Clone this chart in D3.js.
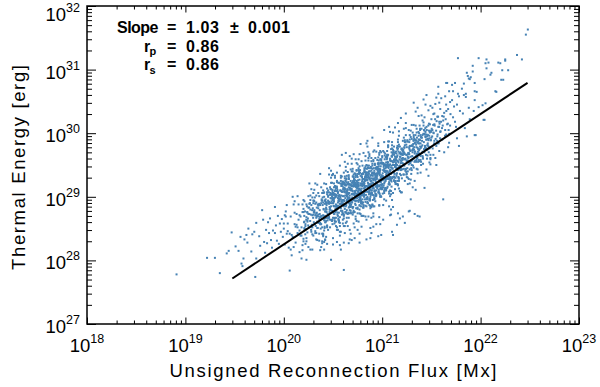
<!DOCTYPE html>
<html><head><meta charset="utf-8">
<script src="https://cdn.jsdelivr.net/npm/d3@7"></script>
<style>html,body{margin:0;padding:0;background:#fff}svg{display:block}</style>
</head><body><svg id="c" width="600" height="387"></svg>
<script>
// Values, as [log10 flux (Mx), log10 energy (erg)]
const sparseLow = [[18.91,27.78],[19.22,28.04],[19.30,28.04],[19.35,27.80],[19.42,28.11],[19.44,28.15],[19.47,28.44],[19.51,28.22],[19.54,28.15],[19.56,28.37],[19.57,27.95],[19.58,27.91],[19.59,28.03],[19.60,28.33],[19.62,28.40],[19.63,28.28],[19.64,28.50],[19.67,28.14],[19.68,28.41],[19.70,28.45],[19.71,27.74],[19.72,28.03],[19.72,28.59],[19.75,28.38],[19.76,28.23],[19.78,28.79],[19.79,28.64],[19.80,28.29],[19.81,28.12],[19.82,28.48],[19.83,28.27],[19.84,28.60],[19.85,28.43],[19.86,28.66],[19.87,28.32],[19.88,28.20],[19.89,28.47],[19.91,28.84],[19.91,28.43],[19.92,28.55],[19.93,28.31],[19.94,28.70],[19.95,28.26],[19.96,28.58],[19.97,28.45],[19.98,28.65],[19.99,28.37],[20.01,28.71]];

const band20 = [
[20.03,28.42],[20.07,28.69],[20.01,28.25],[20.09,29.00],[20.05,28.20],[20.00,28.50],[20.08,28.08],[20.02,28.69],[20.06,28.42],[20.04,28.58],[20.06,27.84],[20.02,28.77],[20.09,28.37],[20.04,28.46],[20.00,28.58],[20.07,28.17],[20.03,28.87],[20.08,28.40],
[20.13,28.56],[20.17,28.39],[20.11,28.75],[20.19,28.24],[20.15,28.64],[20.10,28.88],[20.18,28.52],[20.12,28.28],[20.16,28.71],[20.14,29.01],[20.16,28.13],[20.12,28.53],[20.19,28.88],[20.14,28.43],[20.10,28.21],[20.17,28.69],[20.13,28.73],[20.18,28.03],[20.11,28.57],[20.15,28.88],[20.18,28.39],[20.14,28.52],[20.11,28.93],[20.16,28.47],[20.19,28.76],
[20.23,28.01],[20.27,29.02],[20.21,28.49],[20.29,28.71],[20.25,28.83],[20.20,28.30],[20.28,29.12],[20.22,28.54],[20.26,28.89],[20.24,28.44],[20.26,28.73],[20.22,28.26],[20.29,28.99],[20.24,28.61],[20.20,28.76],[20.27,28.17],[20.23,28.88],[20.28,28.53],[20.21,28.61],[20.25,29.01],[20.28,28.45],[20.24,28.75],[20.21,28.51],[20.26,29.21],[20.29,28.41],[20.23,28.68],[20.20,28.81],[20.25,28.21],[20.27,28.80],[20.22,28.57],[20.21,28.93],[20.29,28.52],[20.25,28.73],[20.23,28.30],[20.27,28.95],[20.24,28.63],[20.28,28.87],[20.20,28.34],
[20.33,28.74],[20.37,28.57],[20.31,28.93],[20.39,28.42],[20.35,28.82],[20.30,29.06],[20.38,28.70],[20.32,28.46],[20.36,28.89],[20.34,29.19],[20.36,28.31],[20.32,28.71],[20.39,29.06],[20.34,28.61],[20.30,28.39],[20.37,28.87],[20.33,28.91],[20.38,28.21],[20.31,28.75],[20.35,29.06],[20.38,28.57],[20.34,28.70],[20.31,29.11],[20.36,28.65],[20.39,28.94],[20.33,28.33],[20.30,28.94],[20.35,28.59],[20.37,29.36],[20.32,28.43],[20.31,28.77],[20.39,28.30],[20.35,28.86],[20.33,29.02],[20.37,28.68],[20.34,28.51],[20.38,29.15],[20.30,28.72],[20.36,28.42],[20.32,28.89],[20.35,28.72],[20.30,28.90],[20.37,28.59],[20.32,29.21],[20.39,28.52],[20.31,28.79],[20.34,28.32],[20.36,29.01],[20.33,28.67],[20.38,28.90],
[20.43,28.62],[20.47,28.83],[20.41,29.21],[20.49,28.78],[20.45,29.00],[20.40,28.40],[20.48,29.12],[20.42,28.66],[20.46,29.45],[20.44,28.55],[20.46,28.92],[20.42,28.33],[20.49,29.00],[20.44,29.13],[20.40,28.71],[20.47,28.64],[20.43,29.20],[20.48,28.90],[20.41,28.47],[20.45,29.02],[20.48,28.85],[20.44,29.04],[20.41,28.63],[20.46,29.35],[20.49,28.62],[20.43,28.91],[20.40,28.38],[20.45,29.10],[20.47,28.81],[20.42,28.94],[20.41,28.17],[20.49,29.22],[20.45,28.71],[20.43,28.83],[20.47,29.03],[20.44,28.52],[20.48,29.30],[20.40,28.70],[20.46,29.07],[20.42,28.60],[20.45,28.90],[20.40,28.42],[20.47,29.15],[20.42,28.77],[20.49,29.03],[20.41,28.29],[20.44,29.07],[20.46,28.69],[20.43,28.81],[20.48,29.22],[20.49,28.64],[20.45,28.94],[20.42,28.70],[20.48,29.41],[20.44,28.54],[20.46,28.89],[20.41,29.00],[20.43,28.37],[20.40,28.91],[20.47,28.80],[20.40,29.10],[20.46,28.67],[20.43,28.89],[20.47,28.52],[20.41,29.07]];

const band205 = [
[20.53,29.00],[20.57,28.54],[20.51,29.15],[20.59,28.92],[20.55,29.06],[20.50,28.25],[20.58,29.30],[20.52,28.77],[20.56,28.95],[20.54,29.09],[20.56,28.63],[20.52,29.33],[20.59,28.88],[20.54,29.14],[20.50,28.67],[20.57,29.01],[20.53,28.54],[20.58,29.25],[20.51,28.85],[20.55,29.08],[20.58,28.45],[20.54,29.16],[20.51,28.73],[20.56,28.93],[20.59,29.32],[20.53,28.67],[20.50,28.98],[20.55,28.82],[20.57,29.49],[20.52,28.61],[20.51,28.93],[20.59,29.17],[20.55,28.48],[20.53,29.03],[20.57,28.89],[20.54,29.23],[20.58,28.78],[20.50,28.95],[20.56,28.60],[20.52,29.17],[20.55,28.91],[20.50,29.06],[20.57,28.68],[20.52,29.30],[20.59,28.87],[20.51,29.03],[20.54,28.52],[20.56,28.97],[20.53,29.16],[20.58,28.82],[20.59,29.66],[20.55,28.70],[20.52,28.99],[20.58,28.89],[20.54,29.25],[20.56,28.62],[20.51,29.05],[20.53,28.88],[20.50,29.35],[20.57,28.24],[20.50,28.90],[20.56,28.75],[20.53,29.14],[20.57,28.59],[20.51,28.97],[20.58,29.33],[20.55,28.86],[20.59,28.72],[20.52,29.04],[20.54,29.38],[20.54,28.48],[20.58,28.96],[20.56,29.22],[20.50,28.76],[20.53,28.61],[20.59,29.08],[20.52,29.09],[20.57,28.39],[20.55,28.98],[20.51,29.21],
[20.63,28.76],[20.67,29.14],[20.61,28.87],[20.69,29.60],[20.65,28.73],[20.60,29.01],[20.68,29.25],[20.62,28.54],[20.66,29.15],[20.64,28.95],[20.66,29.34],[20.62,28.81],[20.69,29.13],[20.64,28.67],[20.60,29.24],[20.67,29.02],[20.63,29.18],[20.68,28.78],[20.61,29.38],[20.65,28.92],[20.68,29.19],[20.64,28.61],[20.61,29.01],[20.66,29.28],[20.69,28.92],[20.63,29.69],[20.60,28.74],[20.65,29.11],[20.67,28.97],[20.62,29.32],[20.61,28.66],[20.69,29.22],[20.65,28.99],[20.63,29.47],[20.67,28.33],[20.64,29.03],[20.68,28.86],[20.60,29.20],[20.66,28.67],[20.62,29.07],[20.65,29.39],[20.60,28.90],[20.67,28.79],[20.62,29.13],[20.69,29.52],[20.61,28.54],[20.64,29.01],[20.66,29.31],[20.63,28.88],[20.68,28.75],[20.69,29.17],[20.65,29.21],[20.62,28.43],[20.68,29.10],[20.64,29.33],[20.66,28.83],[20.61,28.95],[20.63,29.41],[20.60,28.87],[20.67,29.20],[20.60,28.58],[20.66,29.28],[20.63,28.85],[20.67,29.64],[20.61,28.70],[20.68,29.12],[20.65,28.54],[20.69,29.18],[20.62,29.29],[20.64,28.93],[20.64,28.79],[20.68,29.43],[20.66,29.06],[20.60,28.64],[20.63,29.18],[20.69,29.04],[20.62,29.20],[20.67,28.87],[20.65,29.52],[20.61,28.72],[20.67,29.13],[20.63,28.59],[20.60,29.23],[20.65,28.97],[20.62,29.12],[20.68,28.42],[20.69,29.40],[20.61,28.85],[20.64,29.02],[20.66,29.20],
[20.73,28.65],[20.77,29.13],[20.71,29.35],[20.79,29.03],[20.75,28.81],[20.70,29.17],[20.78,29.33],[20.72,28.52],[20.76,29.17],[20.74,29.42],[20.76,28.92],[20.72,29.05],[20.79,29.56],[20.74,29.00],[20.70,29.22],[20.77,28.74],[20.73,29.34],[20.78,28.99],[20.71,29.67],[20.75,28.83],[20.78,29.21],[20.74,28.62],[20.71,29.19],[20.76,29.42],[20.79,29.07],[20.73,28.87],[20.70,29.44],[20.75,29.14],[20.77,28.80],[20.72,29.26],[20.71,29.05],[20.79,29.36],[20.75,28.94],[20.73,29.59],[20.77,28.87],[20.74,29.19],[20.78,28.73],[20.70,29.32],[20.76,29.07],[20.72,29.21],[20.75,28.48],[20.70,29.40],[20.77,29.00],[20.72,29.09],[20.79,29.32],[20.71,28.76],[20.74,29.53],[20.76,29.03],[20.73,29.31],[20.78,28.93],[20.79,29.21],[20.75,28.74],[20.72,29.37],[20.78,29.10],[20.74,29.25],[20.76,28.61],[20.71,29.31],[20.73,28.93],[20.70,29.05],[20.77,29.48],[20.70,28.82],[20.76,29.22],[20.73,28.98],[20.77,29.67],[20.71,28.78],[20.78,29.18],[20.75,29.31],[20.79,28.70],[20.72,29.20],[20.74,29.04],[20.74,29.41],[20.78,28.96],[20.76,29.19],[20.70,28.72],[20.73,29.36],[20.79,29.13],[20.72,29.26],[20.77,28.86],[20.75,29.51],[20.71,28.97],[20.77,29.27],[20.73,28.69],[20.70,29.09],[20.75,29.36],[20.72,28.94],[20.78,29.83],[20.79,28.92],[20.71,29.16],[20.74,29.03],[20.76,29.45],[20.72,28.76],[20.71,29.23],[20.78,29.11],[20.76,29.59],[20.77,28.42],
[20.83,28.86],[20.87,29.64],[20.81,29.06],[20.89,29.45],[20.85,28.98],[20.80,29.20],[20.88,28.85],[20.82,29.45],[20.86,29.16],[20.84,29.33],[20.86,28.69],[20.82,29.40],[20.89,29.07],[20.84,29.17],[20.80,29.49],[20.87,28.97],[20.83,29.27],[20.88,29.11],[20.81,29.69],[20.85,28.90],[20.88,29.26],[20.84,29.38],[20.81,28.70],[20.86,29.32],[20.89,29.17],[20.83,29.48],[20.80,28.96],[20.85,29.26],[20.87,28.87],[20.82,29.43],[20.81,29.13],[20.89,29.41],[20.85,28.92],[20.83,29.57],[20.87,29.11],[20.84,29.32],[20.88,28.82],[20.80,29.17],[20.86,29.45],[20.82,29.02],[20.85,29.88],[20.80,28.91],[20.87,29.30],[20.82,29.09],[20.89,29.56],[20.81,28.83],[20.84,29.34],[20.86,29.17],[20.83,29.64],[20.88,28.51],[20.89,29.25],[20.85,29.00],[20.82,29.39],[20.88,28.86],[20.84,29.26],[20.86,29.57],[20.81,29.08],[20.83,28.92],[20.80,29.28],[20.87,29.67],[20.80,28.70],[20.86,29.20],[20.83,29.45],[20.87,29.09],[20.81,28.85],[20.88,29.33],[20.85,29.38],[20.89,28.67],[20.82,29.21],[20.84,29.50],[20.84,28.98],[20.88,29.19],[20.86,29.61],[20.80,29.04],[20.83,29.33],[20.89,28.84],[20.82,29.41],[20.87,29.06],[20.85,29.79],[20.81,28.87],[20.87,29.28],[20.83,28.69],[20.80,29.26],[20.85,29.49],[20.82,29.08],[20.88,29.00],[20.89,29.61],[20.81,29.18],[20.84,28.85],[20.86,29.38],[20.82,29.14],[20.81,29.36],[20.88,29.05],[20.86,29.70],[20.87,28.95],
[20.93,29.05],[20.97,29.69],[20.91,29.28],[20.99,29.00],[20.95,29.47],[20.90,29.22],[20.98,29.53],[20.92,29.09],[20.96,29.80],[20.94,29.02],[20.96,29.39],[20.92,28.85],[20.99,29.59],[20.94,29.23],[20.90,29.37],[20.97,28.68],[20.93,29.61],[20.98,29.19],[20.91,29.26],[20.95,29.46],[20.98,29.01],[20.94,29.71],[20.91,29.16],[20.96,29.52],[20.99,29.12],[20.93,29.33],[20.90,28.87],[20.95,29.58],[20.97,29.27],[20.92,29.41],[20.91,28.74],[20.99,29.57],[20.95,29.13],[20.93,29.26],[20.97,29.66],[20.94,29.04],[20.98,29.42],[20.90,29.13],[20.96,29.84],[20.92,28.97],[20.95,29.33],[20.90,29.44],[20.97,28.86],[20.92,29.38],[20.99,29.27],[20.91,29.56],[20.94,29.10],[20.96,29.37],[20.93,28.93],[20.98,29.59],[20.99,29.31],[20.95,29.47],[20.92,28.99],[20.98,29.72],[20.94,29.18],[20.96,29.44],[20.91,28.85],[20.93,29.30],[20.90,29.49],[20.97,29.17],[20.90,29.93],[20.96,29.07],[20.93,29.36],[20.97,29.24],[20.91,29.58],[20.98,29.00],[20.95,29.45],[20.99,29.30],[20.92,29.73],[20.94,28.57],[20.94,29.30],[20.98,29.13],[20.96,29.53],[20.90,28.88],[20.93,29.35],[20.99,29.70],[20.92,29.19],[20.97,29.06],[20.95,29.43],[20.91,29.71],[20.97,28.87],[20.93,29.27],[20.90,29.52],[20.95,29.17],[20.92,28.96],[20.98,29.43],[20.99,29.52],[20.91,28.69],[20.94,29.33],[20.96,29.62]];

const band21 = [
[21.03,29.68],[21.07,29.23],[21.01,29.42],[21.09,29.09],[21.05,29.66],[21.00,29.32],[21.08,29.60],[21.02,29.09],[21.06,29.80],[21.04,29.28],[21.06,29.54],[21.02,28.96],[21.09,29.46],[21.04,29.63],[21.00,29.20],[21.07,30.10],[21.03,29.14],[21.08,29.51],[21.01,29.28],[21.05,29.72],[21.08,29.10],[21.04,29.54],[21.01,29.32],[21.06,29.87],[21.09,28.72],[21.03,29.39],[21.00,29.15],[21.05,29.62],[21.07,29.05],[21.02,29.44],[21.01,29.72],[21.09,29.36],[21.05,29.14],[21.03,29.51],[21.07,29.87],[21.04,28.94],[21.08,29.42],[21.00,29.62],[21.06,29.28],[21.02,29.06],[21.05,29.50],[21.00,29.53],[21.07,28.85],[21.02,29.41],[21.09,29.75],[21.01,29.15],[21.04,29.35],[21.06,29.81],[21.03,29.27],[21.08,29.58],[21.09,29.04],[21.05,29.64],[21.02,29.21],[21.08,30.02],[21.04,29.10],[21.06,29.47],[21.01,28.87],[21.03,29.49],[21.00,29.64],[21.07,29.33],[21.00,29.12],[21.06,29.78],[21.03,29.40],[21.07,29.08],[21.01,29.53],[21.08,29.40],[21.05,29.60],[21.09,29.26],[21.02,29.86],[21.04,29.12],[21.04,29.47],[21.08,29.01],[21.06,29.66],[21.00,29.29],[21.03,29.50],[21.09,28.80],[21.02,29.70],[21.07,29.28],[21.05,29.40],[21.01,29.52],
[21.13,30.09],[21.17,29.25],[21.11,29.54],[21.19,29.07],[21.15,29.63],[21.10,29.76],[21.18,29.46],[21.12,29.26],[21.16,29.90],[21.14,29.53],[21.16,29.19],[21.12,29.66],[21.19,29.53],[21.14,29.71],[21.10,29.29],[21.17,30.03],[21.13,29.23],[21.18,29.63],[21.11,29.06],[21.15,29.77],[21.18,29.49],[21.14,29.63],[21.11,28.84],[21.16,29.86],[21.19,29.42],[21.13,29.50],[21.10,29.63],[21.15,29.20],[21.17,29.96],[21.12,29.39],[21.11,29.69],[21.19,29.34],[21.15,29.57],[21.13,29.12],[21.17,29.82],[21.14,29.46],[21.18,29.69],[21.10,28.95],[21.16,29.76],[21.12,29.32],[21.15,29.50],[21.10,29.81],[21.17,29.29],[21.12,29.58],[21.19,29.44],[21.11,30.01],[21.14,29.21],[21.16,29.56],[21.13,29.69],[21.18,29.09],[21.19,29.67],[21.15,29.45],[21.12,29.79],[21.18,29.36],[21.14,29.57],[21.16,29.18],[21.11,29.74],[21.13,29.47],[21.10,29.64],[21.17,29.26],[21.10,29.86],[21.16,29.42],[21.13,29.63],[21.17,29.13],[21.11,29.50],[21.18,29.79],[21.15,29.37],[21.19,30.24],[21.12,29.25],[21.14,29.59],
[21.23,29.67],[21.27,29.28],[21.21,29.88],[21.29,29.63],[21.25,29.78],[21.20,29.07],[21.28,29.90],[21.22,29.44],[21.26,29.63],[21.24,29.97],[21.26,29.40],[21.22,29.70],[21.29,29.56],[21.24,30.16],[21.20,29.29],[21.27,29.69],[21.23,29.81],[21.28,29.21],[21.21,29.71],[21.25,29.57],[21.28,29.97],[21.24,29.44],[21.21,29.66],[21.26,29.30],[21.29,29.94],[21.23,29.59],[21.20,29.76],[21.25,29.36],[21.27,30.05],[21.22,29.50],[21.21,29.73],[21.29,29.27],[21.25,29.66],[21.23,29.86],[21.27,29.51],[21.24,30.31],[21.28,29.43],[21.20,29.67],[21.26,29.57],[21.22,29.93],[21.25,29.31],[21.20,29.74],[21.27,29.62],[21.22,30.07],[21.29,28.96],[21.21,29.61],[21.24,29.43],[21.26,29.87],[21.23,29.25],[21.28,29.74],[21.29,30.04],[21.25,29.56],[21.22,29.35],[21.28,29.80],[21.24,30.08],[21.26,29.20],[21.21,29.59],[21.23,29.89],
[21.33,29.84],[21.37,29.96],[21.31,29.15],[21.39,29.84],[21.35,30.07],[21.30,29.50],[21.38,29.75],[21.32,30.13],[21.36,29.66],[21.34,29.90],[21.36,29.37],[21.32,29.97],[21.39,29.64],[21.34,30.34],[21.30,29.42],[21.37,29.84],[21.33,29.25],[21.38,29.90],[21.31,30.01],[21.35,29.67],[21.38,29.56],[21.34,30.12],[21.31,29.74],[21.36,29.43],[21.39,29.97],[21.33,29.71],[21.30,29.91],[21.35,29.58],[21.37,30.27],[21.32,29.46],[21.31,29.80],[21.39,29.38],[21.35,30.01],[21.33,29.68],[21.37,29.90],[21.34,29.11],[21.38,30.12],[21.30,29.57],[21.36,29.77],[21.32,29.89],[21.35,29.44],[21.30,30.13],[21.37,29.68],[21.32,29.94],[21.39,29.58],
[21.43,30.25],[21.47,29.79],[21.41,29.97],[21.49,29.51],[21.45,29.90],[21.40,30.07],[21.48,29.76],[21.42,30.53],[21.46,29.65],[21.44,29.95],[21.46,29.81],[21.42,30.17],[21.49,29.59],[21.44,30.02],[21.40,29.79],[21.47,30.36],[21.43,29.14],[21.48,29.92],[21.41,29.64],[21.45,30.10],[21.48,29.54],[21.44,29.94],[21.41,30.20],[21.46,29.81],[21.49,29.66],[21.43,29.99],[21.40,30.28],[21.45,29.43],[21.47,29.89],[21.42,30.12],[21.41,29.71],[21.49,29.61],[21.45,29.98],[21.43,30.04],[21.47,29.33]];

// densest part of the cloud, around the fit line
const coreDense = [
[20.365,28.79],[20.315,28.57],[20.385,28.94],[20.335,28.69],[20.395,28.87],[20.345,28.51],[20.305,28.94],[20.375,28.68],[20.325,28.71],[20.355,28.87],[20.325,28.54],[20.395,28.99],[20.355,28.69],[20.305,28.76],[20.375,28.50],[20.335,28.83],[20.385,28.66],[20.315,28.99],[20.365,28.73],[20.345,28.88],[20.375,28.57],[20.335,28.75],[20.305,28.60],[20.385,28.96],[20.355,28.60],
[20.465,28.91],[20.415,28.51],[20.485,28.97],[20.435,28.76],[20.495,29.11],[20.445,28.67],[20.405,28.80],[20.475,28.98],[20.425,28.60],[20.455,28.92],[20.425,28.77],[20.495,29.04],[20.455,28.72],[20.405,29.06],[20.475,28.79],[20.435,28.87],[20.485,28.63],[20.415,28.94],[20.465,28.84],[20.445,28.73],[20.475,29.06],[20.435,28.67],[20.405,28.81],[20.485,29.05],[20.455,28.66],[20.415,28.89],[20.495,28.57],[20.445,29.07],[20.465,28.80],[20.425,28.92],[20.445,28.63],[20.485,28.93],[20.425,28.96],[20.465,28.76],[20.415,28.53],[20.495,29.09],[20.435,28.80],[20.455,28.92],[20.405,28.66],[20.475,29.12],
[20.565,29.03],[20.515,28.58],[20.585,29.20],[20.535,28.86],[20.595,29.08],[20.545,28.72],[20.505,28.94],[20.575,29.10],[20.525,28.81],[20.555,28.66],[20.525,29.11],[20.595,28.95],[20.555,29.01],[20.505,28.75],[20.575,29.21],[20.535,28.84],[20.585,29.09],[20.515,28.66],[20.565,28.97],[20.545,28.81],[20.575,28.99],[20.535,28.78],[20.505,29.05],[20.585,28.93],[20.555,29.02],[20.515,28.67],[20.595,29.22],[20.545,28.84],[20.565,28.94],[20.525,29.03],[20.545,28.75],[20.585,29.17],[20.525,28.85],[20.565,29.01],[20.515,28.63],[20.595,29.08],[20.535,28.80],[20.555,29.22],[20.505,28.86],[20.575,29.10],[20.595,28.78],[20.505,28.91],[20.565,28.85],[20.545,29.11],[20.525,28.76],[20.585,29.02],[20.555,28.64],[20.515,28.99],[20.575,28.89],[20.535,29.14],[20.515,28.73],[20.555,28.94],[20.535,29.03],[20.595,28.76],[20.505,28.96],
[20.665,28.99],[20.615,29.14],[20.685,28.93],[20.635,29.27],[20.695,28.99],[20.645,29.06],[20.605,28.73],[20.675,29.18],[20.625,28.98],[20.655,28.92],[20.625,29.19],[20.695,28.91],[20.655,29.04],[20.605,29.15],[20.675,28.86],[20.635,29.09],[20.685,28.74],[20.615,29.22],[20.665,28.98],[20.645,29.12],[20.675,28.84],[20.635,29.06],[20.605,29.12],[20.685,28.96],[20.655,28.75],[20.615,29.19],[20.695,29.04],[20.645,29.09],[20.665,28.90],[20.625,29.25],[20.645,28.94],[20.685,29.18],[20.625,28.76],[20.665,29.06],[20.615,28.87],[20.695,29.10],[20.635,28.87],[20.655,29.19],[20.605,28.94],[20.675,29.13],[20.695,28.84],[20.605,29.22],[20.665,28.95],[20.645,29.01],[20.625,29.12],[20.685,28.88],[20.655,29.23],[20.615,28.93],[20.675,29.11],[20.635,28.74],[20.615,29.09],[20.655,28.91],[20.635,29.29],[20.695,29.04],[20.605,29.12],[20.665,28.84],[20.625,29.02],[20.685,28.96],[20.645,29.20],[20.675,28.90],[20.685,29.11],[20.665,28.74],[20.615,29.08],[20.655,28.96],[20.635,29.23],
[20.765,28.95],[20.715,29.28],[20.785,29.09],[20.735,29.16],[20.795,28.89],[20.745,29.21],[20.705,28.95],[20.775,29.42],[20.725,29.06],[20.755,29.26],[20.725,28.89],[20.795,29.18],[20.755,29.02],[20.705,29.25],[20.775,28.99],[20.735,29.15],[20.785,28.85],[20.715,29.17],[20.765,29.06],[20.745,29.33],[20.775,28.97],[20.735,29.10],[20.705,29.18],[20.785,28.93],[20.755,29.19],[20.715,29.03],[20.795,29.31],[20.745,28.98],[20.765,29.39],[20.725,29.01],[20.745,29.15],[20.785,28.90],[20.725,29.22],[20.765,29.11],[20.715,28.97],[20.795,29.35],[20.735,28.94],[20.755,29.13],[20.705,29.24],[20.775,28.95],[20.795,29.24],[20.705,28.75],[20.765,29.36],[20.745,29.05],[20.725,29.19],[20.785,28.94],[20.755,29.17],[20.715,29.22],[20.775,29.04],[20.735,28.82],[20.715,29.28],[20.755,29.09],[20.735,29.17],[20.795,29.02],[20.705,29.32],[20.765,29.05],[20.725,29.21],[20.785,28.91],[20.745,29.13],[20.775,29.02],[20.785,29.18],[20.765,28.99],[20.715,29.24],[20.755,29.08],[20.735,29.18],[20.705,28.84],[20.775,29.38],[20.795,29.07],[20.725,29.08],[20.745,29.23],
[20.865,29.40],[20.815,29.00],[20.885,29.24],[20.835,29.35],[20.895,29.05],[20.845,29.27],[20.805,28.83],[20.875,29.45],[20.825,29.11],[20.855,29.30],[20.825,28.96],[20.895,29.29],[20.855,29.34],[20.805,29.05],[20.875,28.94],[20.835,29.38],[20.885,29.20],[20.815,29.23],[20.865,29.07],[20.845,29.44],[20.875,29.14],[20.835,29.30],[20.805,28.91],[20.885,29.25],[20.855,29.08],[20.815,29.19],[20.895,29.10],[20.845,29.35],[20.865,29.17],[20.825,29.25],[20.845,28.96],[20.885,29.47],[20.825,29.08],[20.865,29.20],[20.815,29.28],[20.895,29.06],[20.835,29.38],[20.855,29.14],[20.805,29.21],[20.875,28.95],[20.895,29.34],[20.805,29.03],[20.865,29.49],[20.845,29.16],[20.825,29.31],[20.885,29.03],[20.855,29.22],[20.815,29.06],[20.875,29.40],[20.835,29.03],[20.815,29.21],[20.855,28.90],[20.835,29.27],[20.895,29.17],[20.805,29.37],[20.865,29.04],[20.825,29.17],[20.885,29.34],[20.845,28.97],[20.875,29.29],[20.885,29.18],[20.865,29.36],[20.815,29.03],[20.855,29.46],[20.835,29.10],[20.805,29.19],[20.875,28.97],[20.895,29.37],[20.825,29.15],[20.845,29.08],
[20.965,29.11],[20.915,29.28],[20.985,29.23],[20.935,29.46],[20.995,29.19],[20.945,29.34],[20.905,28.95],[20.975,29.41],[20.925,29.20],[20.955,29.52],[20.925,29.10],[20.995,29.34],[20.955,29.41],[20.905,29.03],[20.975,29.39],[20.935,29.23],[20.985,29.48],[20.915,29.13],[20.965,29.57],[20.945,29.21],[20.975,29.36],[20.935,29.03],[20.905,29.38],[20.985,29.31],[20.955,29.19],[20.915,29.45],[20.995,29.18],[20.945,29.30],[20.965,29.48],[20.925,29.08],[20.945,29.37],[20.985,29.01],[20.925,29.50],[20.965,29.25],[20.915,29.36],[20.995,29.13],[20.935,29.33],[20.955,29.44],[20.905,29.15],[20.975,29.04],[20.995,29.54],[20.905,29.22],[20.965,29.38],[20.945,29.15],[20.925,29.52],[20.985,29.25],[20.955,29.42],[20.915,29.02],[20.975,29.34],[20.935,29.16],[20.915,29.29],[20.955,29.16],[20.935,29.44],[20.995,29.30],[20.905,29.33],[20.965,29.08],[20.925,29.51],[20.985,29.24],[20.945,29.28],[20.975,29.44],[20.985,29.15],[20.965,29.51],[20.915,29.20],[20.955,29.36],[20.935,29.01],
[21.065,29.20],[21.015,29.41],[21.085,29.57],[21.035,29.28],[21.095,29.16],[21.045,29.59],[21.005,29.32],[21.075,29.49],[21.025,29.23],[21.055,29.65],[21.025,29.29],[21.095,29.56],[21.055,29.16],[21.005,29.37],[21.075,29.30],[21.035,29.41],[21.085,29.29],[21.015,29.52],[21.065,29.37],[21.045,29.47],[21.075,29.19],[21.035,29.62],[21.005,29.26],[21.085,29.42],[21.055,29.52],[21.015,29.18],[21.095,29.64],[21.045,29.33],[21.065,29.47],[21.025,29.10],[21.045,29.49],[21.085,29.31],[21.025,29.65],[21.065,29.38],[21.015,29.50],[21.095,29.24],[21.035,29.40],[21.055,29.30],[21.005,29.53],[21.075,29.27],[21.095,29.49],[21.005,29.05],[21.065,29.50],[21.045,29.32],[21.025,29.59],[21.085,29.26],[21.055,29.40],[21.015,29.47],[21.075,29.20],[21.035,29.45],[21.015,29.31],[21.055,29.55],[21.035,29.25],[21.095,29.70],[21.005,29.27],[21.065,29.45],[21.025,29.12],[21.085,29.56],[21.045,29.37],[21.075,29.31],
[21.165,29.30],[21.115,29.72],[21.185,29.46],[21.135,29.49],[21.195,29.68],[21.145,29.33],[21.105,29.67],[21.175,29.48],[21.125,29.55],[21.155,29.25],[21.125,29.59],[21.195,29.44],[21.155,29.80],[21.105,29.44],[21.175,29.68],[21.135,29.30],[21.185,29.57],[21.115,29.38],[21.165,29.71],[21.145,29.36],[21.175,29.59],[21.135,29.20],[21.105,29.56],[21.185,29.48],[21.155,29.74],[21.115,29.31],[21.195,29.56],[21.145,29.62],[21.165,29.31],[21.125,29.56],[21.145,29.46],[21.185,29.70],[21.125,29.36],[21.165,29.79],[21.115,29.40],[21.195,29.60],[21.135,29.25],[21.155,29.65],[21.105,29.45],[21.175,29.43],[21.195,29.75],[21.105,29.31],[21.165,29.54],[21.145,29.68],[21.125,29.30],[21.185,29.63],[21.155,29.20],[21.115,29.71],[21.175,29.48],[21.135,29.60],
[21.265,29.69],[21.215,29.35],[21.285,29.80],[21.235,29.60],[21.295,29.57],[21.245,29.82],[21.205,29.43],[21.275,29.67],[21.225,29.78],[21.255,29.45],[21.225,29.69],[21.295,29.36],[21.255,29.87],[21.205,29.53],[21.275,29.76],[21.235,29.41],[21.285,29.72],[21.215,29.74],[21.265,29.55],[21.245,29.35],[21.275,29.86],[21.235,29.59],[21.205,29.66],[21.285,29.53],[21.255,29.89],[21.215,29.52],[21.295,29.80],[21.245,29.39],[21.265,29.67],[21.225,29.49],[21.245,29.66],[21.285,29.53],[21.225,29.77],[21.265,29.61],[21.215,29.68],[21.295,29.45],[21.235,29.86],[21.255,29.55],[21.205,29.58],[21.275,29.78],
[21.365,29.87],[21.315,29.60],[21.385,30.07],[21.335,29.71],[21.395,29.94],[21.345,29.55],[21.305,29.73],[21.375,29.68],[21.325,29.91],[21.355,29.61],[21.325,29.78],[21.395,29.50],[21.355,29.85],[21.305,29.64],[21.375,30.00],[21.335,29.57],[21.385,29.79],[21.315,29.83],[21.365,29.55],[21.345,29.82],[21.375,29.73],[21.335,29.89],[21.305,29.58],[21.385,30.05],[21.355,29.68],[21.315,29.76],[21.395,29.55],[21.345,29.88],[21.365,29.75],[21.325,29.62],
[21.465,29.97],[21.415,29.52],[21.485,30.14],[21.435,29.80],[21.495,30.02],[21.445,29.66],[21.405,29.88],[21.475,30.04],[21.425,29.75],[21.455,29.60],[21.425,30.05],[21.495,29.89],[21.455,29.95],[21.405,29.69],[21.475,30.15],[21.435,29.78],[21.485,30.03],[21.415,29.60],[21.465,29.91],[21.445,29.75]];

// extra points at both ends of the dense band
const bandEnds = [
[20.205,28.60],[20.215,28.77],[20.225,28.49],[20.235,28.85],[20.245,28.66],[20.255,28.52],[20.265,28.90],[20.275,28.72],[20.285,28.56],[20.295,28.82],[20.208,28.70],[20.218,28.41],[20.228,28.64],[20.238,28.76],[20.248,28.55],[20.258,28.83],[20.268,28.62],[20.278,28.48],[20.288,28.79],[20.298,28.67],
[21.308,29.70],[21.318,29.88],[21.328,29.55],[21.338,29.97],[21.348,29.78],[21.358,29.62],[21.368,30.02],[21.378,29.84],[21.388,29.66],[21.398,29.93],[21.303,29.81],[21.313,29.49],[21.323,29.74],[21.333,29.85],[21.343,29.64],[21.353,29.93],[21.363,29.71],[21.373,29.58],[21.383,29.89],[21.393,29.77],
[21.408,29.81],[21.418,29.99],[21.428,29.70],[21.438,30.08],[21.448,29.90],[21.458,29.74],[21.468,30.12],[21.478,29.96],[21.488,29.78],[21.498,30.04],[21.403,29.93],[21.413,29.62],[21.423,29.86],[21.433,29.98],[21.443,29.77],[21.453,30.05],[21.463,29.84],[21.473,29.70],[21.483,30.01],[21.493,29.89],
[21.508,29.95],[21.518,30.13],[21.528,29.84],[21.538,30.22],[21.548,30.04],[21.558,29.88],[21.568,30.26],[21.578,30.10],[21.588,29.92],[21.598,30.18],[21.503,30.07],[21.513,29.76],[21.523,30.00],[21.533,30.12],[21.543,29.91],[21.553,30.19],[21.563,29.98],[21.573,29.84],[21.583,30.15],[21.593,30.03],
[21.608,30.08],[21.625,30.26],[21.638,29.96],[21.652,30.35],[21.667,30.15],[21.681,29.99],[21.694,30.30],[21.615,30.12],[21.645,30.22],[21.675,30.05]];

const band215 = [
[21.51,30.05],[21.53,30.31],[21.55,29.80],[21.57,30.73],[21.52,29.66],[21.58,30.18],[21.54,30.46],[21.56,29.95],[21.59,30.38],[21.50,30.22],[21.53,29.88],[21.57,30.10],[21.55,30.56],[21.52,30.01],[21.58,29.72],[21.51,30.40],[21.56,30.26],[21.54,29.61],[21.59,30.02],[21.50,29.93],[21.57,30.62],[21.53,30.14],[21.55,29.50],[21.58,30.48],[21.52,30.30],[21.56,29.84],
[21.62,30.20],[21.65,30.45],[21.61,29.90],[21.68,30.66],[21.64,30.05],[21.67,29.78],[21.63,30.32],[21.66,30.79],[21.69,30.12],[21.60,30.55],[21.62,28.96],[21.65,29.98],[21.67,30.38],[21.64,30.58],[21.68,29.85],[21.61,30.27],[21.66,30.14],[21.69,30.49],[21.63,29.70],[21.65,30.79],
[21.71,30.76],[21.73,30.42],[21.75,30.10],[21.77,30.62],[21.72,30.25],[21.78,30.58],[21.74,30.79],[21.76,29.92],[21.79,30.35],[21.71,30.52],[21.77,31.18],[21.74,30.18],[21.78,29.80],[21.72,30.66],[21.76,30.45],
[21.85,30.57],[21.83,30.60],[21.87,30.90],[21.89,30.85],[21.88,30.86],[21.85,30.62],[21.86,30.95],[21.82,30.31],[21.84,30.08],[21.81,30.70],[21.88,30.40],[21.86,29.95],[21.83,30.78],[21.89,30.22],
[21.92,31.06],[21.92,30.97],[21.94,30.79],[21.94,30.66],[21.94,30.52],[21.98,30.41],[21.96,30.65],[21.98,31.18],[21.93,30.35],[21.94,29.97],[21.95,29.97],[21.90,30.88]];

const topRight = [[22.02,30.44],[22.04,30.21],[22.04,30.85],[22.06,31.16],[22.08,31.11],[22.06,31.02],[22.10,30.92],[22.11,30.95],[22.15,30.66],[22.16,30.65],[22.18,31.11],[22.21,30.84],[22.22,30.99],[22.25,31.14],[22.25,31.16],[22.28,30.99],[22.37,31.23],[22.42,31.16],[22.46,31.55],[22.48,31.63],[22.05,31.10],[22.20,31.10],[22.05,30.47],[22.23,30.84],[22.03,30.21]];

const belowBand = [[20.19,28.16],[20.29,28.17],[20.37,28.16],[20.48,28.01],[20.58,28.17],[20.61,27.85],[20.23,28.35],[20.39,28.27],[20.42,28.32],[20.44,28.26],[20.50,28.35],[20.54,28.29],[20.61,28.28],[20.66,28.27],[20.69,28.32],[20.72,28.35],[20.77,28.28],[20.84,28.33],[20.88,28.35],[20.89,28.43],[20.96,28.38],[20.99,28.40],[21.10,28.45],[21.11,28.40],[21.15,28.56],[21.18,28.66],[21.23,28.59],[21.28,28.78],[21.33,28.73],[21.36,28.70],[21.38,28.69],[21.27,28.77],[21.21,28.69],[20.33,28.43],[20.45,28.48],[20.57,28.45],[20.67,28.48],[20.79,28.53],[20.91,28.53],[21.01,28.64],[21.08,28.71],[21.16,28.74],[20.98,28.57],[20.84,28.64],[20.71,28.58]];

const aboveBand = [[21.32,30.48],[21.36,30.40],[21.44,30.45],[21.49,30.43],[21.45,30.60],[20.49,29.34],[20.50,29.36],[20.20,28.95],[20.84,29.84],[21.16,30.16],[20.62,29.55],[21.02,30.05]];

// Fitted power law (slope 1.03)
const fitFlux = [3e19, 3e22];
const fitEnergy = [5.2e27, 6.2e30];

const xTickExps = [18, 19, 20, 21, 22, 23];
const yTickExps = [27, 28, 29, 30, 31, 32];
const statLabels = ["Slope", "r", "r"];
const statSubs = ["", "p", "s"];
const statValues = ["1.03", "0.86", "0.86"];
const slopeError = "0.001";
const xTitle = "Unsigned Reconnection Flux [Mx]";
const yTitle = "Thermal Energy [erg]";

const M = {l: 87, r: 579, t: 6, b: 324};
const x = d3.scaleLog().domain([1e18, 1e23]).range([M.l, M.r]);
const y = d3.scaleLog().domain([1e27, 1e32]).range([M.b, M.t]);
const svg = d3.select('#c');
const FONT = "'Liberation Sans', Arial, Helvetica, sans-serif";

const pts = [].concat(sparseLow, band20, band205, band21, coreDense, bandEnds, band215, topRight, belowBand, aboveBand);
svg.append('g').selectAll('rect').data(pts).join('rect')
  .attr('x', d => x(Math.pow(10, d[0])) - 1)
  .attr('y', d => y(Math.pow(10, d[1])) - 1)
  .attr('width', 2).attr('height', 2)
  .attr('fill', '#4682b4');

svg.append('path')
  .datum(fitFlux.map((f, i) => [f, fitEnergy[i]]))
  .attr('d', d3.line().x(d => x(d[0])).y(d => y(d[1])))
  .attr('fill', 'none').attr('stroke', '#000').attr('stroke-width', 2);

// ticks
const xMaj = xTickExps.map(e => Math.pow(10, e));
const yMaj = yTickExps.map(e => Math.pow(10, e));
const xMin = [], yMin = [];
xTickExps.slice(0, -1).forEach(e => { for (let k = 2; k < 10; k++) xMin.push(k * Math.pow(10, e)); });
yTickExps.slice(0, -1).forEach(e => { for (let k = 2; k < 10; k++) yMin.push(k * Math.pow(10, e)); });

function axis(gen, tr, vals, size) {
  const g = svg.append('g').attr('transform', tr)
    .call(gen.tickValues(vals).tickSize(size).tickSizeOuter(0).tickFormat(''));
  g.select('.domain').remove();
  g.selectAll('line').attr('stroke', '#000').attr('stroke-width', 1);
}
axis(d3.axisBottom(x), `translate(0,${M.b})`, xMaj, -6.5);
axis(d3.axisBottom(x), `translate(0,${M.b})`, xMin, -3.5);
axis(d3.axisTop(x), `translate(0,${M.t})`, xMaj, -6.5);
axis(d3.axisTop(x), `translate(0,${M.t})`, xMin, -3.5);
axis(d3.axisLeft(y), `translate(${M.l},0)`, yMaj, -9);
axis(d3.axisLeft(y), `translate(${M.l},0)`, yMin, -5);
axis(d3.axisRight(y), `translate(${M.r},0)`, yMaj, -9);
axis(d3.axisRight(y), `translate(${M.r},0)`, yMin, -5);

svg.append('rect').attr('x', M.l).attr('y', M.t).attr('width', M.r - M.l).attr('height', M.b - M.t)
  .attr('fill', 'none').attr('stroke', '#000').attr('stroke-width', 1.5);

// tick labels
const xl = svg.append('g').attr('font-family', FONT).attr('fill', '#000');
xTickExps.forEach(e => {
  const t = xl.append('text').attr('x', x(Math.pow(10, e))).attr('y', 352).attr('text-anchor', 'middle').attr('font-size', 18.5);
  t.append('tspan').text('10');
  t.append('tspan').attr('dy', -9).attr('font-size', 12.5).text(e);
});
yTickExps.forEach(e => {
  const yy = Math.max(y(Math.pow(10, e)) + 9, 20.5);
  const t = xl.append('text').attr('x', 80).attr('y', yy).attr('text-anchor', 'end').attr('font-size', 18.5);
  t.append('tspan').text('10');
  t.append('tspan').attr('dy', -9).attr('font-size', 12.5).text(e);
});

// axis titles
svg.append('text').attr('x', (M.l + M.r) / 2).attr('y', 377).attr('text-anchor', 'middle')
  .attr('font-family', FONT).attr('font-size', 18.5).attr('textLength', 327).attr('lengthAdjust', 'spacing').text(xTitle);
svg.append('text').attr('transform', 'translate(25,167.5) rotate(-90)').attr('text-anchor', 'middle')
  .attr('font-family', FONT).attr('font-size', 18.5).attr('textLength', 205).attr('lengthAdjust', 'spacing').text(yTitle);

// stats annotation
const st = svg.append('g').attr('font-family', FONT).attr('font-weight', 'bold').attr('font-size', 16).attr('fill', '#000');
const rowY = [32.5, 51.5, 70];
statLabels.forEach((lab, i) => {
  if (i === 0) {
    st.append('text').attr('x', 117).attr('y', rowY[i]).attr('textLength', 41.5).attr('lengthAdjust', 'spacing').text(lab);
  } else {
    st.append('text').attr('x', 144).attr('y', rowY[i]).text(lab);
    st.append('text').attr('x', 149.5).attr('y', rowY[i] + 3.5).attr('font-size', 11).text(statSubs[i]);
  }
  st.append('text').attr('x', 167).attr('y', rowY[i]).text('=');
  st.append('text').attr('x', 186).attr('y', rowY[i]).attr('textLength', 33).attr('lengthAdjust', 'spacing').text(statValues[i]);
});
st.append('text').attr('x', 230).attr('y', rowY[0]).text('\u00b1');
st.append('text').attr('x', 248).attr('y', rowY[0]).attr('textLength', 42).attr('lengthAdjust', 'spacing').text(slopeError);
</script>
</body></html>
